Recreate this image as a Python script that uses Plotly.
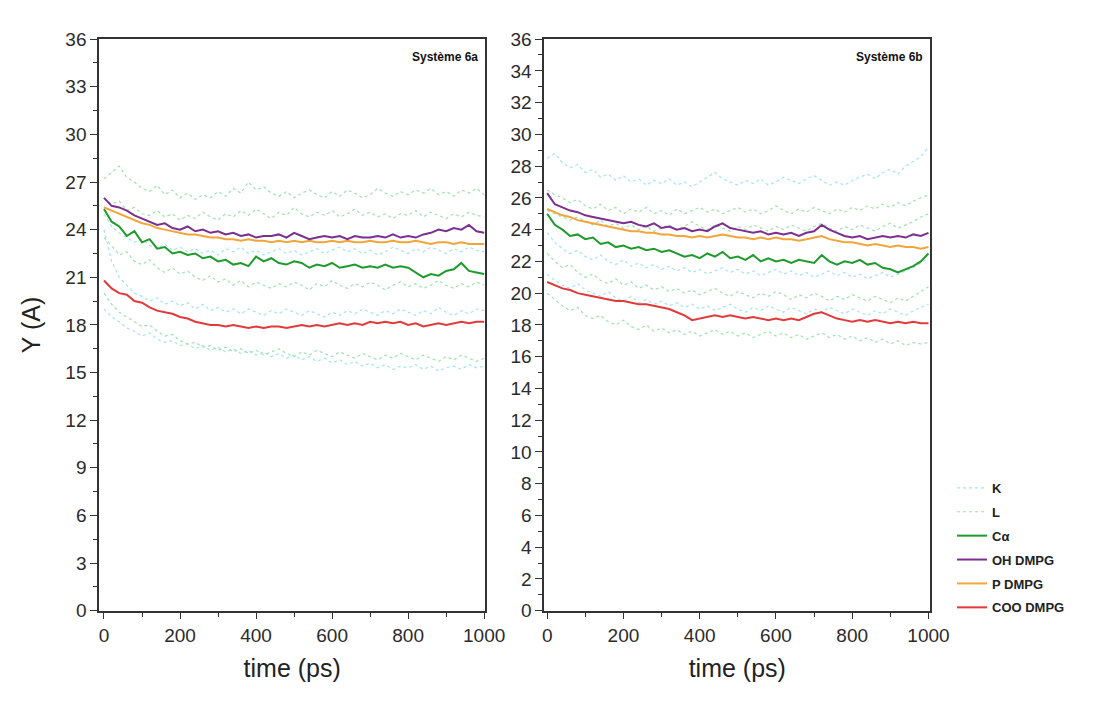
import plotly.graph_objects as go

# Time axis (ps), one sample every 20 ps
time_ps = list(range(0, 1001, 20))

# ---------- Système 6a ----------
oh_6a = [26.0, 25.5, 25.4, 25.2, 24.9, 24.7, 24.5, 24.3, 24.4, 24.1, 24.0, 24.2, 23.9, 24.0, 23.8, 23.9, 23.7,
         23.8, 23.6, 23.7, 23.5, 23.6, 23.6, 23.7, 23.5, 23.8, 23.6, 23.4, 23.5, 23.6, 23.5, 23.6, 23.4, 23.6,
         23.5, 23.5, 23.6, 23.5, 23.7, 23.5, 23.6, 23.5, 23.7, 23.8, 24.0, 23.9, 24.1, 24.0, 24.3, 23.9, 23.8]
p_6a = [25.4, 25.2, 25.0, 24.8, 24.6, 24.4, 24.3, 24.1, 24.0, 23.9, 23.8, 23.7, 23.7, 23.6, 23.5, 23.5, 23.4,
        23.4, 23.3, 23.4, 23.3, 23.3, 23.2, 23.3, 23.2, 23.3, 23.2, 23.3, 23.2, 23.2, 23.3, 23.2, 23.3, 23.2,
        23.2, 23.3, 23.2, 23.2, 23.3, 23.2, 23.2, 23.3, 23.2, 23.1, 23.2, 23.2, 23.1, 23.2, 23.1, 23.1, 23.1]
ca_6a = [25.3, 24.5, 24.2, 23.6, 23.9, 23.2, 23.4, 22.8, 22.9, 22.5, 22.6, 22.4, 22.5, 22.2, 22.3, 22.0, 22.1,
         21.8, 21.9, 21.7, 22.3, 22.0, 22.2, 21.9, 21.8, 22.0, 21.9, 21.6, 21.8, 21.7, 21.9, 21.6, 21.7, 21.8,
         21.6, 21.7, 21.6, 21.8, 21.6, 21.7, 21.6, 21.3, 21.0, 21.2, 21.1, 21.4, 21.5, 21.9, 21.4, 21.3, 21.2]
coo_6a = [20.8, 20.3, 20.0, 19.9, 19.5, 19.4, 19.1, 18.9, 18.8, 18.7, 18.5, 18.4, 18.2, 18.1, 18.0, 18.0, 17.9,
          18.0, 17.9, 17.8, 17.9, 17.8, 17.9, 17.9, 17.8, 17.9, 18.0, 17.9, 18.0, 17.9, 18.0, 18.1, 18.0, 18.1,
          18.0, 18.2, 18.1, 18.2, 18.1, 18.2, 18.0, 18.1, 17.9, 18.0, 18.1, 18.0, 18.1, 18.2, 18.1, 18.2, 18.2]
k_6a = [
    [25.0, 24.2, 23.8, 23.5, 23.2, 23.4, 23.0, 22.8, 23.1, 22.7, 22.9, 22.6, 22.8, 22.5, 22.7, 22.4, 22.8,
     22.6, 22.9, 22.5, 22.7, 22.4, 22.6, 22.8, 22.5, 22.7, 22.4, 22.6, 22.8, 22.5, 22.7, 22.9, 22.6, 22.8,
     22.5, 22.7, 22.4, 22.6, 22.9, 22.7, 22.5, 22.8, 22.6, 22.9, 22.7, 22.5, 22.8, 22.6, 22.9, 22.7, 22.6],
    [24.0, 22.0, 21.0, 20.5, 20.0, 19.8, 19.5, 19.7, 19.3, 19.5, 19.2, 19.4, 19.0, 19.3, 18.9, 19.1, 18.8,
     19.0, 18.7, 19.0, 18.8, 18.6, 18.9, 18.7, 19.0, 18.8, 18.6, 18.9, 18.7, 18.5, 18.8, 18.6, 18.9, 18.7,
     19.0, 18.8, 18.6, 18.9, 18.7, 19.0, 18.8, 18.6, 18.9, 18.7, 19.1, 18.8, 18.6, 18.9, 18.7, 19.0, 18.9],
    [19.0, 18.5, 18.2, 17.8, 17.6, 17.3, 17.5, 17.1, 16.9, 17.0, 16.7, 16.8, 16.5, 16.7, 16.4, 16.6, 16.3,
     16.5, 16.2, 16.4, 16.1, 16.3, 16.0, 16.2, 15.9, 16.1, 15.8, 16.0, 15.7, 15.9, 15.6, 15.8, 15.5, 15.7,
     15.4, 15.6, 15.3, 15.5, 15.2, 15.4, 15.3, 15.5, 15.2, 15.4, 15.1, 15.3, 15.4, 15.2, 15.5, 15.3, 15.4],
]
l_6a = [
    [27.2, 27.6, 28.0, 27.3, 27.0, 26.6, 26.4, 26.8, 26.2, 26.5, 26.0, 26.3, 25.9, 26.2, 26.0, 26.4, 26.1,
     26.6, 26.3, 27.0, 26.5, 26.7, 26.3, 26.1, 26.4, 26.0, 26.3, 26.5, 26.2, 26.0, 26.4, 26.1, 26.5, 26.3,
     26.0, 26.2, 26.6, 26.3, 26.1, 26.4, 26.2, 26.5, 26.3, 26.6, 26.2, 26.4, 26.1, 26.5, 26.3, 26.6, 26.2],
    [26.0, 25.6, 25.8, 25.2, 25.4, 25.0, 24.9, 25.2, 24.8, 25.0, 24.6, 24.9, 24.7, 25.1, 24.8, 24.6, 25.0,
     24.8, 25.2, 24.9, 25.3, 25.0, 24.7, 25.1, 24.9, 25.4, 25.0, 24.8, 25.1, 24.9, 25.2, 24.8, 25.0, 25.3,
     24.9, 25.1, 24.8, 25.0, 24.7, 25.0, 24.9, 25.2, 24.8, 25.1, 24.9, 24.7, 25.0, 24.8, 25.1, 24.9, 24.8],
    [23.5, 23.0, 22.4, 22.6, 22.0, 21.8, 22.1, 21.6, 21.3, 21.6, 21.2, 21.4, 21.0, 20.8, 21.1, 20.7, 20.9,
     20.5, 20.8, 20.4, 20.7, 20.5, 20.3, 20.6, 20.4, 20.7, 20.5, 20.2, 20.6, 20.4, 20.8, 20.5, 20.3, 20.6,
     20.4, 20.7, 20.5, 20.2, 20.5, 20.7, 20.4, 20.6, 20.3, 20.5, 20.8, 20.5, 20.3, 20.6, 20.4, 20.7, 20.5],
    [20.0, 19.3, 18.8, 18.5, 18.2, 17.9, 18.0, 17.6, 17.3, 17.4, 17.0, 16.8, 16.9, 16.6, 16.7, 16.4, 16.6,
     16.3, 16.5, 16.2, 16.4, 16.1, 16.3, 16.5, 16.2, 16.0, 16.3, 16.1, 16.4, 16.2, 16.0, 16.3, 16.1, 15.9,
     16.2, 16.0, 15.8, 16.1, 15.9, 16.2, 16.0, 15.8, 16.1, 15.9, 15.7, 16.0, 15.8, 16.1, 15.9, 15.7, 15.9],
]

# ---------- Système 6b ----------
oh_6b = [26.3, 25.6, 25.4, 25.2, 25.1, 24.9, 24.8, 24.7, 24.6, 24.5, 24.4, 24.5, 24.3, 24.2, 24.4, 24.1, 24.2,
         24.0, 24.1, 23.9, 24.0, 23.9, 24.2, 24.4, 24.1, 24.0, 23.9, 23.8, 23.9, 23.7, 23.8, 23.7, 23.8, 23.6,
         23.8, 23.9, 24.3, 24.0, 23.8, 23.6, 23.5, 23.6, 23.4, 23.5, 23.6, 23.5, 23.6, 23.5, 23.7, 23.6, 23.8]
p_6b = [25.3, 25.1, 24.9, 24.8, 24.6, 24.5, 24.4, 24.3, 24.2, 24.1, 24.0, 23.9, 23.9, 23.8, 23.8, 23.7, 23.7,
        23.6, 23.6, 23.5, 23.6, 23.5, 23.6, 23.7, 23.6, 23.5, 23.5, 23.4, 23.5, 23.4, 23.5, 23.4, 23.4, 23.3,
        23.4, 23.5, 23.6, 23.4, 23.3, 23.2, 23.2, 23.1, 23.0, 23.1, 23.0, 22.9, 23.0, 22.9, 22.9, 22.8, 22.9]
ca_6b = [25.0, 24.3, 24.0, 23.6, 23.7, 23.4, 23.5, 23.1, 23.2, 22.9, 23.0, 22.8, 22.9, 22.7, 22.8, 22.6, 22.7,
         22.5, 22.3, 22.4, 22.2, 22.5, 22.3, 22.6, 22.2, 22.3, 22.1, 22.4, 22.0, 22.2, 22.0, 22.1, 21.9, 22.1,
         22.0, 21.9, 22.4, 22.0, 21.8, 22.0, 21.9, 22.1, 21.8, 21.9, 21.6, 21.5, 21.3, 21.5, 21.7, 22.0, 22.5]
coo_6b = [20.7, 20.5, 20.3, 20.2, 20.0, 19.9, 19.8, 19.7, 19.6, 19.5, 19.5, 19.4, 19.3, 19.3, 19.2, 19.1, 19.0,
          18.8, 18.6, 18.3, 18.4, 18.5, 18.6, 18.5, 18.6, 18.5, 18.4, 18.5, 18.4, 18.3, 18.4, 18.3, 18.4, 18.3,
          18.5, 18.7, 18.8, 18.6, 18.4, 18.3, 18.2, 18.3, 18.2, 18.3, 18.2, 18.1, 18.2, 18.1, 18.2, 18.1, 18.1]
k_6b = [
    [28.5, 28.8, 28.2, 27.9, 28.1, 27.6, 27.8, 27.3, 27.5, 27.1, 27.4, 27.0, 27.2, 26.8, 27.1, 26.9, 27.2,
     26.8, 27.0, 26.7, 27.0, 27.3, 27.6, 27.2, 27.0, 26.8, 27.1, 26.9, 27.2, 26.8, 27.0, 27.3, 27.1, 26.9,
     27.2, 27.4, 27.1, 26.8, 27.0, 26.8, 27.1, 27.3, 27.5, 27.2, 27.6, 27.8, 27.5, 28.0, 28.3, 28.6, 29.2],
    [23.8, 23.2, 22.8, 22.5, 22.7, 22.3, 22.1, 22.4, 22.0, 21.8, 22.1, 21.7, 21.9, 21.6, 21.8, 21.5, 21.7,
     21.4, 21.6, 21.3, 21.5, 21.2, 21.4, 21.6, 21.3, 21.5, 21.2, 21.4, 21.1, 21.3, 21.5, 21.2, 21.4, 21.1,
     21.3, 21.0, 21.2, 21.4, 21.1, 21.3, 21.0, 21.2, 20.9, 21.1, 21.3, 21.0, 21.2, 21.4, 21.6, 21.9, 22.2],
    [21.2, 20.8, 20.5, 20.3, 20.6, 20.2, 20.0, 19.8, 20.1, 19.7, 19.5, 19.8, 19.4, 19.6, 19.3, 19.5, 19.2,
     19.4, 19.1, 19.3, 19.0, 19.2, 18.9, 19.1, 19.3, 19.0, 18.8, 19.1, 18.9, 19.2, 19.0, 18.8, 19.1, 18.9,
     18.7, 19.0, 18.8, 19.1, 18.9, 18.7, 19.0, 18.8, 18.6, 18.9, 18.7, 19.0, 18.8, 18.6, 18.9, 19.1, 19.3],
]
l_6b = [
    [26.5, 26.2, 26.0, 25.7, 25.9, 25.5, 25.3, 25.6, 25.2, 25.4, 25.0, 25.3, 25.1, 25.4, 25.0, 25.2, 24.9,
     25.3, 25.0, 25.2, 25.4, 25.1, 25.3, 25.0, 25.2, 25.4, 25.1, 25.3, 25.0, 25.2, 25.5, 25.2, 25.0, 25.3,
     25.1, 25.4, 25.2, 25.0, 25.3, 25.1, 25.4, 25.2, 25.5, 25.3, 25.6, 25.4, 25.7, 25.5, 25.8, 26.0, 26.2],
    [25.2, 25.0, 24.8, 24.6, 24.8, 24.5, 24.3, 24.6, 24.2, 24.4, 24.1, 24.3, 24.0, 24.2, 23.9, 24.1, 24.3,
     24.0, 24.2, 24.5, 24.2, 24.0, 24.3, 24.1, 23.9, 24.2, 24.0, 24.3, 24.1, 23.9, 24.2, 24.0, 24.3, 24.1,
     23.9, 24.2, 24.4, 24.1, 23.9, 24.2, 24.0, 24.3, 24.1, 23.9, 24.2, 24.4, 24.1, 24.3, 24.5, 24.8, 25.0],
    [22.5, 22.0, 21.6, 21.8, 21.3, 21.0, 21.2, 20.8, 20.6, 20.9, 20.5, 20.7, 20.3, 20.5, 20.2, 20.4, 20.1,
     20.3, 20.0, 20.2, 19.9, 20.1, 20.3, 20.0, 19.8, 20.1, 19.9, 19.7, 20.0, 19.8, 20.1, 19.9, 19.6, 19.9,
     19.7, 20.0, 19.8, 19.5, 19.8, 19.6, 19.9, 19.7, 19.5, 19.8, 19.6, 19.4, 19.7, 19.5, 19.8, 20.1, 20.4],
    [20.0, 19.6, 19.2, 18.9, 19.1, 18.6, 18.4, 18.6, 18.2, 18.0, 18.3, 17.9, 17.7, 18.0, 17.6, 17.8, 17.5,
     17.7, 17.4, 17.6, 17.3, 17.5, 17.7, 17.4, 17.6, 17.3, 17.5, 17.2, 17.4, 17.6, 17.3, 17.5, 17.2, 17.4,
     17.1, 17.3, 17.5, 17.2, 17.4, 17.1, 17.3, 17.0, 17.2, 16.9, 17.1, 16.8, 17.0, 16.7, 16.9, 16.8, 16.9],
]

panel_titles = ["Système 6a", "Système 6b"]
legend_names = ["K", "L", "Cα", "OH DMPG", "P DMPG", "COO DMPG"]

COL_K = "#a4e4ee"
COL_L = "#9fe2ad"
COL_CA = "#1f9a2c"
COL_OH = "#7b2f8e"
COL_P = "#f2a53a"
COL_COO = "#e23a3a"

FONT = "Liberation Sans, Arial, sans-serif"

fig = go.Figure()

panels = [
    ("x", "y", k_6a, l_6a, ca_6a, p_6a, oh_6a, coo_6a),
    ("x2", "y2", k_6b, l_6b, ca_6b, p_6b, oh_6b, coo_6b),
]

for pi, (xa, ya, ks, ls, ca, pp, oh, coo) in enumerate(panels):
    first = pi == 0
    for i, ser in enumerate(ks):
        fig.add_trace(go.Scatter(
            x=time_ps, y=ser, xaxis=xa, yaxis=ya, mode="lines",
            line=dict(color=COL_K, width=1.2, dash="dot"),
            name=legend_names[0], legendgroup="K", legendrank=1,
            showlegend=first and i == 0))
    for i, ser in enumerate(ls):
        fig.add_trace(go.Scatter(
            x=time_ps, y=ser, xaxis=xa, yaxis=ya, mode="lines",
            line=dict(color=COL_L, width=1.2, dash="dot"),
            name=legend_names[1], legendgroup="L", legendrank=2,
            showlegend=first and i == 0))
    solid = [
        (ca, COL_CA, legend_names[2], 3),
        (pp, COL_P, legend_names[4], 5),
        (oh, COL_OH, legend_names[3], 4),
        (coo, COL_COO, legend_names[5], 6),
    ]
    for ser, col, nm, rank in solid:
        fig.add_trace(go.Scatter(
            x=time_ps, y=ser, xaxis=xa, yaxis=ya, mode="lines",
            line=dict(color=col, width=2),
            name=nm, legendgroup=nm, legendrank=rank, showlegend=first))

W, H = 1119, 710
left_px = [(99, 493), (553, 947)]
top_px, bot_px = 30, 619

axis_common = dict(
    showline=True, linecolor="#333333", linewidth=1.6, mirror=True,
    ticks="outside", ticklen=7, tickwidth=1.4, tickcolor="#333333",
    showgrid=False, zeroline=False,
    tickfont=dict(family=FONT, size=19, color="#2b2b2b"),
)

xdom = [(a / W, b / W) for a, b in left_px]
ydom = (1 - bot_px / H, 1 - top_px / H)

fig.update_layout(
    width=W, height=H,
    margin=dict(l=0, r=0, t=0, b=0),
    paper_bgcolor="white", plot_bgcolor="white",
    showlegend=True,
    legend=dict(
        x=0.866, y=1 - 477 / H, xanchor="left", yanchor="top",
        font=dict(family=FONT, size=13, color="#222222", weight="bold"),
        tracegroupgap=4, traceorder="grouped", itemwidth=30,
        bgcolor="rgba(0,0,0,0)",
    ),
    xaxis=dict(domain=xdom[0], range=[-13, 1003], tickvals=[0, 200, 400, 600, 800, 1000],
               minor=dict(tickvals=[100, 300, 500, 700, 900], ticklen=5, tickcolor="#333333", ticks="outside"),
               anchor="y",
               title=dict(text="time (ps)", font=dict(family=FONT, size=25, color="#222222"), standoff=14),
               **axis_common),
    xaxis2=dict(domain=xdom[1], range=[-8, 1005], tickvals=[0, 200, 400, 600, 800, 1000],
                minor=dict(tickvals=[100, 300, 500, 700, 900], ticklen=5, tickcolor="#333333", ticks="outside"),
                anchor="y2",
                title=dict(text="time (ps)", font=dict(family=FONT, size=25, color="#222222"), standoff=14),
                **axis_common),
    yaxis=dict(domain=ydom, range=[0, 36], dtick=3, tick0=0, anchor="x",
               minor=dict(dtick=1.5, ticklen=4, tickcolor="#333333", ticks="outside"),
               title=dict(text="Y (A)", font=dict(family=FONT, size=25, color="#222222"), standoff=18),
               **axis_common),
    yaxis2=dict(domain=ydom, range=[0, 36], dtick=2, tick0=0, anchor="x2",
                minor=dict(dtick=1, ticklen=4, tickcolor="#333333", ticks="outside"),
                **axis_common),
)

# panel labels in the upper-right corner of each frame
for xa, ya, txt in [("x", "y", panel_titles[0]), ("x2", "y2", panel_titles[1])]:
    fig.add_annotation(
        x=0.985, y=0.985, xref=f"{xa} domain", yref=f"{ya} domain",
        xanchor="right", yanchor="top", showarrow=False, text=txt,
        font=dict(family=FONT, size=12, color="#111111", weight="bold"))

fig.write_html("out.html")
